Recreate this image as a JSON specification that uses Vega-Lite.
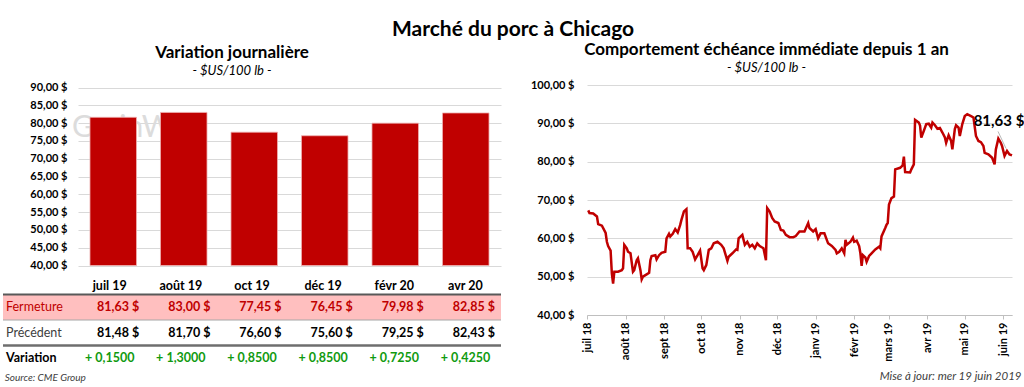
{
  "$schema": "https://vega.github.io/schema/vega-lite/v6.json",
  "background": "white",
  "padding": {"left": 1, "top": 19, "right": 0, "bottom": 0},
  "config": {
    "font": "Lato",
    "view": {"stroke": null},
    "locale": {
      "number": {"decimal": ",", "thousands": "\u00a0", "grouping": [3], "currency": ["", "\u00a0$"]},
      "time": {
        "dateTime": "%A %e %B %Y à %X",
        "date": "%d/%m/%Y",
        "time": "%H:%M:%S",
        "periods": ["AM", "PM"],
        "days": ["dimanche", "lundi", "mardi", "mercredi", "jeudi", "vendredi", "samedi"],
        "shortDays": ["dim.", "lun.", "mar.", "mer.", "jeu.", "ven.", "sam."],
        "months": ["janvier", "février", "mars", "avril", "mai", "juin", "juillet", "août", "septembre", "octobre", "novembre", "décembre"],
        "shortMonths": ["janv", "févr", "mars", "avr", "mai", "juin", "juil", "août", "sept", "oct", "nov", "déc"]
      }
    },
    "title": {"color": "#000000", "subtitleColor": "#000000"},
    "axis": {"labelColor": "#000000", "gridColor": "#D9D9D9"}
  },
  "title": {"text": "Marché du porc à Chicago", "fontSize": 21, "fontWeight": "bold", "anchor": "middle", "offset": 1},
  "datasets": {
    "contracts": [
      {"contract": "juil 19", "close": 81.63, "prev": 81.48, "change": 0.15},
      {"contract": "août 19", "close": 83.00, "prev": 81.70, "change": 1.30},
      {"contract": "oct 19", "close": 77.45, "prev": 76.60, "change": 0.85},
      {"contract": "déc 19", "close": 76.45, "prev": 75.60, "change": 0.85},
      {"contract": "févr 20", "close": 79.98, "prev": 79.25, "change": 0.725},
      {"contract": "avr 20", "close": 82.85, "prev": 82.43, "change": 0.425}
    ],
    "prices": [
      {"date": "2018-07-02", "price": 67.3}, {"date": "2018-07-03", "price": 66.6}, {"date": "2018-07-06", "price": 66.5},
      {"date": "2018-07-09", "price": 65.7}, {"date": "2018-07-10", "price": 63.7}, {"date": "2018-07-13", "price": 63.3},
      {"date": "2018-07-16", "price": 61.4}, {"date": "2018-07-17", "price": 59.1}, {"date": "2018-07-18", "price": 58.0},
      {"date": "2018-07-20", "price": 56.8}, {"date": "2018-07-21", "price": 50.8}, {"date": "2018-07-22", "price": 48.2},
      {"date": "2018-07-23", "price": 51.3}, {"date": "2018-07-26", "price": 51.3}, {"date": "2018-07-29", "price": 51.7},
      {"date": "2018-07-30", "price": 52.2}, {"date": "2018-07-31", "price": 58.3}, {"date": "2018-08-02", "price": 57.4},
      {"date": "2018-08-03", "price": 56.5}, {"date": "2018-08-05", "price": 56.1}, {"date": "2018-08-07", "price": 51.3},
      {"date": "2018-08-08", "price": 51.7}, {"date": "2018-08-10", "price": 54.3}, {"date": "2018-08-11", "price": 54.8},
      {"date": "2018-08-13", "price": 51.7}, {"date": "2018-08-14", "price": 49.3}, {"date": "2018-08-15", "price": 50.0},
      {"date": "2018-08-18", "price": 50.6}, {"date": "2018-08-20", "price": 51.0}, {"date": "2018-08-21", "price": 54.3},
      {"date": "2018-08-22", "price": 55.4}, {"date": "2018-08-25", "price": 55.6}, {"date": "2018-08-26", "price": 54.5},
      {"date": "2018-08-28", "price": 55.6}, {"date": "2018-08-30", "price": 56.2}, {"date": "2018-09-02", "price": 56.5},
      {"date": "2018-09-03", "price": 60.0}, {"date": "2018-09-05", "price": 61.2}, {"date": "2018-09-06", "price": 60.5},
      {"date": "2018-09-08", "price": 61.2}, {"date": "2018-09-10", "price": 62.4}, {"date": "2018-09-12", "price": 61.5},
      {"date": "2018-09-14", "price": 63.5}, {"date": "2018-09-15", "price": 64.8}, {"date": "2018-09-17", "price": 67.0},
      {"date": "2018-09-19", "price": 67.6}, {"date": "2018-09-20", "price": 57.4}, {"date": "2018-09-22", "price": 57.4},
      {"date": "2018-09-24", "price": 56.5}, {"date": "2018-09-26", "price": 54.5}, {"date": "2018-09-28", "price": 55.6},
      {"date": "2018-09-30", "price": 56.8}, {"date": "2018-10-02", "price": 52.2}, {"date": "2018-10-03", "price": 51.7},
      {"date": "2018-10-05", "price": 53.0}, {"date": "2018-10-07", "price": 57.0}, {"date": "2018-10-09", "price": 57.4},
      {"date": "2018-10-11", "price": 58.7}, {"date": "2018-10-14", "price": 59.1}, {"date": "2018-10-17", "price": 58.3},
      {"date": "2018-10-19", "price": 57.4}, {"date": "2018-10-22", "price": 54.1}, {"date": "2018-10-23", "price": 55.2},
      {"date": "2018-10-26", "price": 56.1}, {"date": "2018-10-29", "price": 57.1}, {"date": "2018-10-30", "price": 57.0},
      {"date": "2018-10-31", "price": 60.0}, {"date": "2018-11-03", "price": 60.9}, {"date": "2018-11-05", "price": 58.3},
      {"date": "2018-11-07", "price": 59.1}, {"date": "2018-11-09", "price": 57.8}, {"date": "2018-11-11", "price": 58.3},
      {"date": "2018-11-13", "price": 57.4}, {"date": "2018-11-15", "price": 58.7}, {"date": "2018-11-17", "price": 58.0},
      {"date": "2018-11-20", "price": 57.4}, {"date": "2018-11-22", "price": 54.3}, {"date": "2018-11-23", "price": 67.9},
      {"date": "2018-11-25", "price": 67.0}, {"date": "2018-11-27", "price": 65.3}, {"date": "2018-11-29", "price": 64.4},
      {"date": "2018-12-02", "price": 64.0}, {"date": "2018-12-03", "price": 63.1}, {"date": "2018-12-04", "price": 62.2},
      {"date": "2018-12-06", "price": 62.0}, {"date": "2018-12-08", "price": 60.9}, {"date": "2018-12-11", "price": 60.3},
      {"date": "2018-12-14", "price": 60.3}, {"date": "2018-12-16", "price": 60.6}, {"date": "2018-12-19", "price": 61.8},
      {"date": "2018-12-23", "price": 61.8}, {"date": "2018-12-26", "price": 64.0}, {"date": "2018-12-27", "price": 62.7},
      {"date": "2018-12-30", "price": 61.8}, {"date": "2019-01-01", "price": 62.4}, {"date": "2019-01-03", "price": 60.0},
      {"date": "2019-01-05", "price": 61.3}, {"date": "2019-01-08", "price": 61.3}, {"date": "2019-01-11", "price": 58.7},
      {"date": "2019-01-14", "price": 58.0}, {"date": "2019-01-17", "price": 57.0}, {"date": "2019-01-18", "price": 56.1},
      {"date": "2019-01-20", "price": 56.5}, {"date": "2019-01-22", "price": 57.4}, {"date": "2019-01-24", "price": 56.1},
      {"date": "2019-01-25", "price": 59.6}, {"date": "2019-01-26", "price": 58.3}, {"date": "2019-01-29", "price": 59.1},
      {"date": "2019-01-31", "price": 60.2}, {"date": "2019-02-01", "price": 59.1}, {"date": "2019-02-03", "price": 59.4},
      {"date": "2019-02-05", "price": 58.0}, {"date": "2019-02-06", "price": 56.1}, {"date": "2019-02-07", "price": 52.8},
      {"date": "2019-02-08", "price": 55.6}, {"date": "2019-02-10", "price": 55.0}, {"date": "2019-02-11", "price": 53.9},
      {"date": "2019-02-13", "price": 55.4}, {"date": "2019-02-15", "price": 56.1}, {"date": "2019-02-18", "price": 57.1},
      {"date": "2019-02-21", "price": 57.8}, {"date": "2019-02-22", "price": 57.4}, {"date": "2019-02-23", "price": 60.5},
      {"date": "2019-02-26", "price": 62.7}, {"date": "2019-02-27", "price": 63.5}, {"date": "2019-02-28", "price": 64.0},
      {"date": "2019-03-01", "price": 68.8}, {"date": "2019-03-03", "price": 70.5}, {"date": "2019-03-05", "price": 70.9},
      {"date": "2019-03-06", "price": 78.0}, {"date": "2019-03-10", "price": 78.4}, {"date": "2019-03-12", "price": 79.0},
      {"date": "2019-03-13", "price": 81.3}, {"date": "2019-03-14", "price": 77.3}, {"date": "2019-03-18", "price": 77.2},
      {"date": "2019-03-19", "price": 78.0}, {"date": "2019-03-21", "price": 79.3}, {"date": "2019-03-22", "price": 90.9},
      {"date": "2019-03-25", "price": 90.2}, {"date": "2019-03-26", "price": 89.4}, {"date": "2019-03-27", "price": 86.3},
      {"date": "2019-03-29", "price": 88.0}, {"date": "2019-03-31", "price": 89.8}, {"date": "2019-04-02", "price": 89.9},
      {"date": "2019-04-04", "price": 88.9}, {"date": "2019-04-05", "price": 90.2}, {"date": "2019-04-07", "price": 89.5},
      {"date": "2019-04-09", "price": 88.6}, {"date": "2019-04-11", "price": 88.8}, {"date": "2019-04-13", "price": 87.6},
      {"date": "2019-04-15", "price": 86.3}, {"date": "2019-04-16", "price": 84.9}, {"date": "2019-04-18", "price": 86.9},
      {"date": "2019-04-20", "price": 85.4}, {"date": "2019-04-21", "price": 83.2}, {"date": "2019-04-23", "price": 88.5},
      {"date": "2019-04-24", "price": 89.5}, {"date": "2019-04-26", "price": 88.9}, {"date": "2019-04-27", "price": 86.7},
      {"date": "2019-04-29", "price": 89.8}, {"date": "2019-05-01", "price": 91.9}, {"date": "2019-05-03", "price": 92.4},
      {"date": "2019-05-06", "price": 91.9}, {"date": "2019-05-08", "price": 91.5}, {"date": "2019-05-10", "price": 86.7},
      {"date": "2019-05-12", "price": 85.4}, {"date": "2019-05-14", "price": 85.1}, {"date": "2019-05-16", "price": 84.1},
      {"date": "2019-05-17", "price": 82.3}, {"date": "2019-05-20", "price": 81.9}, {"date": "2019-05-23", "price": 81.0},
      {"date": "2019-05-25", "price": 79.3}, {"date": "2019-05-26", "price": 83.2}, {"date": "2019-05-28", "price": 86.0},
      {"date": "2019-05-30", "price": 84.9}, {"date": "2019-05-31", "price": 84.1}, {"date": "2019-06-02", "price": 81.5},
      {"date": "2019-06-04", "price": 82.8}, {"date": "2019-06-06", "price": 81.9}, {"date": "2019-06-08", "price": 81.63}
    ],
    "last": [{"date": "2019-06-08", "price": 81.63}]
  },
  "spacing": 27,
  "hconcat": [
    {
      "spacing": 3,
      "bounds": "flush",
      "vconcat": [
        {
          "width": 498,
          "height": 181,
          "title": {"text": "Variation journalière", "subtitle": "- $US/100 lb -", "fontSize": 17, "fontWeight": "bold", "subtitleFontSize": 13, "subtitleFontStyle": "italic", "anchor": "middle", "dx": -20, "offset": 3, "subtitlePadding": 3},
          "layer": [
            {
              "data": {"values": [{}]},
              "mark": {"type": "text", "text": "GrainWiz", "fontSize": 30, "color": "#DCDCDC", "align": "left", "baseline": "middle", "dx": -18},
              "encoding": {
                "x": {"datum": "juil 19", "type": "nominal", "bandPosition": 0, "axis": null, "scale": {"domain": ["juil 19", "août 19", "oct 19", "déc 19", "févr 20", "avr 20"], "range": [75, 498], "paddingInner": 0.34, "paddingOuter": 0.17}},
                "y": {"datum": 78.5, "type": "quantitative", "scale": {"domain": [40, 90], "zero": false, "nice": false, "range": [180.5, 2.5]},
                  "axis": {"title": null, "grid": true, "gridColor": "#D9D9D9", "gridOpacity": 1, "gridWidth": 1, "values": [40, 45, 50, 55, 60, 65, 70, 75, 80, 85, 90], "format": "$.2f", "offset": -75, "domain": false, "tickSize": 0, "tickOpacity": 0, "labelPadding": 11, "labelFontSize": 11, "labelFontWeight": "bold", "labelOverlap": false}}
              }
            },
            {
              "data": {"name": "contracts"},
              "mark": {"type": "bar", "color": "#C00000", "stroke": "#EFB0B0", "strokeWidth": 0.8},
              "encoding": {
                "x": {"field": "contract", "type": "nominal", "sort": null, "axis": null, "scale": {"domain": ["juil 19", "août 19", "oct 19", "déc 19", "févr 20", "avr 20"], "range": [75, 498], "paddingInner": 0.34, "paddingOuter": 0.17}},
                "y": {"field": "close", "type": "quantitative", "scale": {"domain": [40, 90], "zero": false, "nice": false, "range": [180.5, 2.5]},
                  "axis": {"title": null, "grid": true, "gridColor": "#D9D9D9", "gridOpacity": 1, "gridWidth": 1, "values": [40, 45, 50, 55, 60, 65, 70, 75, 80, 85, 90], "format": "$.2f", "offset": -75, "domain": false, "tickSize": 0, "tickOpacity": 0, "labelPadding": 11, "labelFontSize": 11, "labelFontWeight": "bold", "labelOverlap": false}},
                "y2": {"datum": 40}
              }
            }
          ]
        },
        {
          "width": 498,
          "height": 102,
          "title": {"text": "Source: CME Group", "orient": "bottom", "anchor": "start", "fontSize": 10, "fontStyle": "italic", "fontWeight": "normal", "color": "#404040", "offset": 2, "dx": 3},
          "layer": [
            {
              "data": {"values": [{}]},
              "mark": {"type": "rect", "color": "#FFBFBF"},
              "encoding": {
                "y": {"datum": "Fermeture", "type": "nominal", "axis": null, "scale": {"type": "band", "domain": ["header", "Fermeture", "Précédent", "Variation"], "paddingInner": 0, "paddingOuter": 0}}
              }
            },
            {
              "data": {"values": [{}]},
              "mark": {"type": "rule", "color": "#595959", "strokeWidth": 2},
              "encoding": {"y": {"datum": "Fermeture", "type": "nominal", "bandPosition": 0, "axis": null, "scale": {"type": "band", "domain": ["header", "Fermeture", "Précédent", "Variation"], "paddingInner": 0, "paddingOuter": 0}}}
            },
            {
              "data": {"values": [{}]},
              "mark": {"type": "rule", "color": "#A6A6A6", "strokeWidth": 1},
              "encoding": {"y": {"datum": "Précédent", "type": "nominal", "bandPosition": 0, "axis": null, "scale": {"type": "band", "domain": ["header", "Fermeture", "Précédent", "Variation"], "paddingInner": 0, "paddingOuter": 0}}}
            },
            {
              "data": {"values": [{}]},
              "mark": {"type": "rule", "color": "#6E6E6E", "strokeWidth": 2.5},
              "encoding": {"y": {"datum": "Variation", "type": "nominal", "bandPosition": 0, "axis": null, "scale": {"type": "band", "domain": ["header", "Fermeture", "Précédent", "Variation"], "paddingInner": 0, "paddingOuter": 0}}}
            },
            {
              "data": {"name": "contracts"},
              "mark": {"type": "text", "fontSize": 12.5, "fontWeight": "bold", "color": "#000000", "dy": 4},
              "encoding": {
                "x": {"field": "contract", "type": "nominal", "axis": null, "scale": {"type": "band", "domain": ["lbl", "juil 19", "août 19", "oct 19", "déc 19", "févr 20", "avr 20"], "paddingInner": 0, "paddingOuter": 0}},
                "y": {"datum": "header", "type": "nominal", "axis": null, "scale": {"type": "band", "domain": ["header", "Fermeture", "Précédent", "Variation"], "paddingInner": 0, "paddingOuter": 0}},
                "text": {"field": "contract"}
              }
            },
            {
              "data": {"name": "contracts"},
              "mark": {"type": "text", "fontSize": 12.5, "fontWeight": "bold", "color": "#C00000", "align": "right", "dx": -6},
              "encoding": {
                "x": {"field": "contract", "type": "nominal", "bandPosition": 1, "axis": null, "scale": {"type": "band", "domain": ["lbl", "juil 19", "août 19", "oct 19", "déc 19", "févr 20", "avr 20"], "paddingInner": 0, "paddingOuter": 0}},
                "y": {"datum": "Fermeture", "type": "nominal", "axis": null, "scale": {"type": "band", "domain": ["header", "Fermeture", "Précédent", "Variation"], "paddingInner": 0, "paddingOuter": 0}},
                "text": {"field": "close", "format": "$.2f"}
              }
            },
            {
              "data": {"name": "contracts"},
              "mark": {"type": "text", "fontSize": 12.5, "fontWeight": "bold", "color": "#000000", "align": "right", "dx": -6},
              "encoding": {
                "x": {"field": "contract", "type": "nominal", "bandPosition": 1, "axis": null, "scale": {"type": "band", "domain": ["lbl", "juil 19", "août 19", "oct 19", "déc 19", "févr 20", "avr 20"], "paddingInner": 0, "paddingOuter": 0}},
                "y": {"datum": "Précédent", "type": "nominal", "axis": null, "scale": {"type": "band", "domain": ["header", "Fermeture", "Précédent", "Variation"], "paddingInner": 0, "paddingOuter": 0}},
                "text": {"field": "prev", "format": "$.2f"}
              }
            },
            {
              "data": {"name": "contracts"},
              "mark": {"type": "text", "fontSize": 12.5, "fontWeight": "bold", "color": "#109A10", "text": {"expr": "'+ ' + format(datum.change, '.4f')"}},
              "encoding": {
                "x": {"field": "contract", "type": "nominal", "axis": null, "scale": {"type": "band", "domain": ["lbl", "juil 19", "août 19", "oct 19", "déc 19", "févr 20", "avr 20"], "paddingInner": 0, "paddingOuter": 0}},
                "y": {"datum": "Variation", "type": "nominal", "axis": null, "scale": {"type": "band", "domain": ["header", "Fermeture", "Précédent", "Variation"], "paddingInner": 0, "paddingOuter": 0}}
              }
            },
            {
              "data": {"values": [{}]},
              "mark": {"type": "text", "text": "Fermeture", "fontSize": 12.5, "color": "#C00000", "align": "left", "dx": 3},
              "encoding": {
                "x": {"datum": "lbl", "type": "nominal", "bandPosition": 0, "axis": null, "scale": {"type": "band", "domain": ["lbl", "juil 19", "août 19", "oct 19", "déc 19", "févr 20", "avr 20"], "paddingInner": 0, "paddingOuter": 0}},
                "y": {"datum": "Fermeture", "type": "nominal", "axis": null, "scale": {"type": "band", "domain": ["header", "Fermeture", "Précédent", "Variation"], "paddingInner": 0, "paddingOuter": 0}}
              }
            },
            {
              "data": {"values": [{}]},
              "mark": {"type": "text", "text": "Précédent", "fontSize": 12.5, "color": "#404040", "align": "left", "dx": 3},
              "encoding": {
                "x": {"datum": "lbl", "type": "nominal", "bandPosition": 0, "axis": null, "scale": {"type": "band", "domain": ["lbl", "juil 19", "août 19", "oct 19", "déc 19", "févr 20", "avr 20"], "paddingInner": 0, "paddingOuter": 0}},
                "y": {"datum": "Précédent", "type": "nominal", "axis": null, "scale": {"type": "band", "domain": ["header", "Fermeture", "Précédent", "Variation"], "paddingInner": 0, "paddingOuter": 0}}
              }
            },
            {
              "data": {"values": [{}]},
              "mark": {"type": "text", "text": "Variation", "fontSize": 12.5, "fontWeight": "bold", "color": "#000000", "align": "left", "dx": 3},
              "encoding": {
                "x": {"datum": "lbl", "type": "nominal", "bandPosition": 0, "axis": null, "scale": {"type": "band", "domain": ["lbl", "juil 19", "août 19", "oct 19", "déc 19", "févr 20", "avr 20"], "paddingInner": 0, "paddingOuter": 0}},
                "y": {"datum": "Variation", "type": "nominal", "axis": null, "scale": {"type": "band", "domain": ["header", "Fermeture", "Précédent", "Variation"], "paddingInner": 0, "paddingOuter": 0}}
              }
            }
          ]
        }
      ]
    },
    {
      "width": 425,
      "height": 230,
      "title": {"text": "Comportement échéance immédiate depuis 1 an", "subtitle": "- $US/100 lb -", "fontSize": 17, "fontWeight": "bold", "subtitleFontSize": 13, "subtitleFontStyle": "italic", "anchor": "middle", "dx": -33, "offset": 3, "subtitlePadding": 3},
      "encoding": {
        "x": {"field": "date", "type": "temporal",
          "scale": {"domain": [{"year": 2018, "month": 7, "date": 1}, {"year": 2019, "month": 6, "date": 8}]},
          "axis": {"tickCount": {"interval": "month", "step": 1}, "format": "%b %y", "labelAngle": 270, "labelFontSize": 11, "labelFontWeight": "bold", "labelFlush": false, "labelOverlap": false, "labelPadding": 3, "grid": false, "tickSize": 4, "tickColor": "#BFBFBF", "domainColor": "#BFBFBF",
            "title": "Mise à jour: mer 19 juin 2019", "titleFontSize": 11.5, "titleFontStyle": "italic", "titleFontWeight": "normal", "titleColor": "#404040", "titleAlign": "right", "titleAnchor": "end", "titleX": 434, "titlePadding": 9}},
        "y": {"field": "price", "type": "quantitative", "scale": {"domain": [40, 100], "zero": false, "nice": false},
          "axis": {"title": null, "grid": true, "gridColor": "#D9D9D9", "gridOpacity": 1, "gridWidth": 1, "values": [40, 50, 60, 70, 80, 90, 100], "format": "$.2f", "domain": false, "tickSize": 0, "tickOpacity": 0, "labelPadding": 13, "labelFontSize": 11, "labelFontWeight": "bold", "labelOverlap": false}}
      },
      "layer": [
        {
          "data": {"values": [{}]},
          "mark": {"type": "text", "text": "GrainWiz", "fontSize": 25, "color": "#DADADA", "align": "left", "baseline": "middle", "dx": -4},
          "encoding": {
            "x": {"datum": {"year": 2018, "month": 7, "date": 1}, "type": "temporal",
              "scale": {"domain": [{"year": 2018, "month": 7, "date": 1}, {"year": 2019, "month": 6, "date": 8}]},
              "axis": {"tickCount": {"interval": "month", "step": 1}, "format": "%b %y", "labelAngle": 270, "labelFontSize": 11, "labelFontWeight": "bold", "labelFlush": false, "labelOverlap": false, "labelPadding": 3, "grid": false, "tickSize": 4, "tickColor": "#BFBFBF", "domainColor": "#BFBFBF",
                "title": "Mise à jour: mer 19 juin 2019", "titleFontSize": 11.5, "titleFontStyle": "italic", "titleFontWeight": "normal", "titleColor": "#404040", "titleAlign": "right", "titleAnchor": "end", "titleX": 434, "titlePadding": 9}},
            "y": {"datum": 91.3, "type": "quantitative", "scale": {"domain": [40, 100], "zero": false, "nice": false},
              "axis": {"title": null, "grid": true, "gridColor": "#D9D9D9", "gridOpacity": 1, "gridWidth": 1, "values": [40, 50, 60, 70, 80, 90, 100], "format": "$.2f", "domain": false, "tickSize": 0, "tickOpacity": 0, "labelPadding": 13, "labelFontSize": 11, "labelFontWeight": "bold", "labelOverlap": false}}
          }
        },
        {
          "data": {"name": "prices"},
          "mark": {"type": "line", "color": "#C00000", "strokeWidth": 2.5}
        },
        {
          "data": {"name": "last"},
          "mark": {"type": "rule", "color": "#A6A6A6", "strokeWidth": 0.8, "xOffset": -14, "yOffset": -24, "x2Offset": -6, "y2Offset": -7},
          "encoding": {
            "x2": {"field": "date"},
            "y2": {"field": "price"}
          }
        },
        {
          "data": {"name": "last"},
          "mark": {"type": "text", "fontSize": 15, "fontWeight": "bold", "color": "#000000", "dx": -13, "dy": -34},
          "encoding": {
            "text": {"field": "price", "format": "$.2f"}
          }
        }
      ]
    }
  ]
}
